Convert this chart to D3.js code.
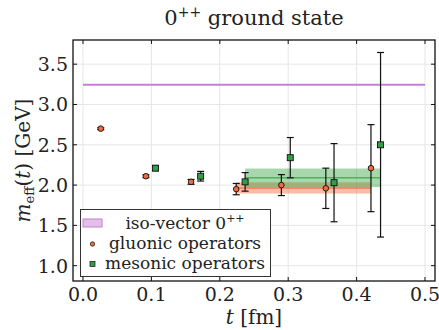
<!DOCTYPE html>
<html>
<head>
<meta charset="utf-8">
<script src="https://cdn.jsdelivr.net/npm/d3@7"></script>
<style>
  body { margin: 0; background: #fff; }
  svg text { font-family: "DejaVu Serif", "Liberation Serif", serif; fill: #222; }
</style>
</head>
<body>
<div id="chart"></div>
<script>
// gluonic operators
var gluonT = [0.026, 0.092, 0.158, 0.224, 0.290, 0.355, 0.421];
var gluonM = [2.70, 2.11, 2.04, 1.95, 2.00, 1.96, 2.21];
var gluonErr = [0.012, 0.018, 0.03, 0.07, 0.13, 0.25, 0.54];
// mesonic operators
var mesonT = [0.106, 0.172, 0.237, 0.303, 0.367, 0.435];
var mesonM = [2.21, 2.11, 2.04, 2.34, 2.03, 2.50];
var mesonErr = [0.03, 0.06, 0.115, 0.25, 0.485, 1.145];
// fitted plateaus [tStart, tEnd, value, error]
var gluonFit = [0.224, 0.421, 1.965, 0.07];
var mesonFit = [0.237, 0.435, 2.09, 0.115];
// iso-vector reference level
var isoVector = 3.245;
var isoRange = [0, 0.5];

var xTicks = [0, 0.1, 0.2, 0.3, 0.4, 0.5];
var yTicks = [1.0, 1.5, 2.0, 2.5, 3.0, 3.5];

var svgWidth = 439, svgHeight = 330;
var margin = {top: 40, right: 4, bottom: 49, left: 73};
var width = svgWidth - margin.left - margin.right;
var height = svgHeight - margin.top - margin.bottom;

var svg = d3.select('#chart').append('svg')
  .attr('width', svgWidth)
  .attr('height', svgHeight);

var g = svg.append('g')
  .attr('transform', 'translate(' + margin.left + ',' + margin.top + ')');

var x = d3.scaleLinear().domain([-0.0146, 0.5146]).range([0, width]);
var y = d3.scaleLinear().domain([0.81, 3.80]).range([height, 0]);

var orange = '#f06a3c', green = '#2f9e46';

// grid
g.append('g').selectAll('line').data(xTicks).enter().append('line')
  .attr('x1', d => x(d)).attr('x2', d => x(d))
  .attr('y1', 0).attr('y2', height)
  .attr('stroke', '#e6e6e6').attr('stroke-width', 1);
g.append('g').selectAll('line').data(yTicks).enter().append('line')
  .attr('y1', d => y(d)).attr('y2', d => y(d))
  .attr('x1', 0).attr('x2', width)
  .attr('stroke', '#e6e6e6').attr('stroke-width', 1);

// iso-vector line
g.append('line')
  .attr('x1', x(isoRange[0])).attr('x2', x(isoRange[1]))
  .attr('y1', y(isoVector)).attr('y2', y(isoVector))
  .attr('stroke', '#c77fd4').attr('stroke-width', 2);

// fit bands
function band(fit, fill, line) {
  g.append('rect')
    .attr('x', x(fit[0])).attr('width', x(fit[1]) - x(fit[0]))
    .attr('y', y(fit[2] + fit[3])).attr('height', y(fit[2] - fit[3]) - y(fit[2] + fit[3]))
    .attr('fill', fill).attr('fill-opacity', 0.45);
  g.append('line')
    .attr('x1', x(fit[0])).attr('x2', x(fit[1]))
    .attr('y1', y(fit[2])).attr('y2', y(fit[2]))
    .attr('stroke', line).attr('stroke-width', 1.5).attr('stroke-opacity', 0.8);
}
band(gluonFit, orange, orange);
band(mesonFit, '#3aa64a', '#3aa64a');

// error bars
function errorBars(ts, ms, es) {
  var eg = g.append('g').attr('stroke', '#111').attr('stroke-width', 1.2);
  ts.forEach(function(t, i) {
    var cx = x(t), top = y(ms[i] + es[i]), bot = y(ms[i] - es[i]);
    eg.append('line').attr('x1', cx).attr('x2', cx).attr('y1', top).attr('y2', bot);
    eg.append('line').attr('x1', cx - 3.5).attr('x2', cx + 3.5).attr('y1', top).attr('y2', top);
    eg.append('line').attr('x1', cx - 3.5).attr('x2', cx + 3.5).attr('y1', bot).attr('y2', bot);
  });
}
errorBars(gluonT, gluonM, gluonErr);
errorBars(mesonT, mesonM, mesonErr);

// markers
g.append('g').selectAll('circle').data(gluonT).enter().append('circle')
  .attr('cx', d => x(d)).attr('cy', (d, i) => y(gluonM[i]))
  .attr('r', 2.8).attr('fill', orange).attr('stroke', '#111').attr('stroke-width', 0.9);
g.append('g').selectAll('rect').data(mesonT).enter().append('rect')
  .attr('x', d => x(d) - 3).attr('y', (d, i) => y(mesonM[i]) - 3)
  .attr('width', 6).attr('height', 6)
  .attr('fill', green).attr('stroke', '#111').attr('stroke-width', 0.9);

// frame and inward ticks
g.append('rect').attr('width', width).attr('height', height)
  .attr('fill', 'none').attr('stroke', '#111').attr('stroke-width', 1.3);
var tk = g.append('g').attr('stroke', '#111').attr('stroke-width', 1);
xTicks.forEach(function(t) {
  tk.append('line').attr('x1', x(t)).attr('x2', x(t)).attr('y1', height).attr('y2', height - 4);
  tk.append('line').attr('x1', x(t)).attr('x2', x(t)).attr('y1', 0).attr('y2', 4);
});
yTicks.forEach(function(t) {
  tk.append('line').attr('y1', y(t)).attr('y2', y(t)).attr('x1', 0).attr('x2', 4);
  tk.append('line').attr('y1', y(t)).attr('y2', y(t)).attr('x1', width).attr('x2', width - 4);
});

// tick labels
g.append('g').selectAll('text').data(xTicks).enter().append('text')
  .attr('x', d => x(d)).attr('y', height + 20)
  .attr('text-anchor', 'middle').attr('font-size', 19)
  .text(d => d3.format('.1f')(d));
g.append('g').selectAll('text').data(yTicks).enter().append('text')
  .attr('x', -5).attr('y', d => y(d) + 7)
  .attr('text-anchor', 'end').attr('font-size', 19)
  .text(d => d3.format('.1f')(d));

// axis labels
var xl = svg.append('text').attr('x', margin.left + x(0.25)).attr('y', 324)
  .attr('text-anchor', 'middle').attr('font-size', 20);
xl.append('tspan').attr('font-style', 'italic').text('t');
xl.append('tspan').text(' [fm]');

var yl = svg.append('text')
  .attr('transform', 'translate(30,' + (margin.top + height / 2) + ') rotate(-90)')
  .attr('text-anchor', 'middle').attr('font-size', 20);
yl.append('tspan').attr('font-style', 'italic').text('m');
yl.append('tspan').attr('font-size', 13).attr('dy', 4).text('eff');
yl.append('tspan').attr('dy', -4).text('(');
yl.append('tspan').attr('font-style', 'italic').text('t');
yl.append('tspan').text(') [GeV]');

// title
var tt = svg.append('text').attr('x', margin.left + width / 2).attr('y', 25)
  .attr('text-anchor', 'middle').attr('font-size', 21);
tt.append('tspan').text('0');
tt.append('tspan').attr('font-size', 14).attr('dy', -8).text('++');
tt.append('tspan').attr('dy', 8).text(' ground state');

// legend
var lg = svg.append('g');
lg.append('rect').attr('x', 80.5).attr('y', 209.5).attr('width', 190).attr('height', 67)
  .attr('fill', '#fff').attr('fill-opacity', 0.9).attr('stroke', '#333').attr('stroke-width', 1);
lg.append('rect').attr('x', 83).attr('y', 219).attr('width', 19).attr('height', 8)
  .attr('fill', '#c77fd4').attr('fill-opacity', 0.5).attr('stroke', '#c77fd4');
lg.append('circle').attr('cx', 92.5).attr('cy', 244).attr('r', 2.2)
  .attr('fill', orange).attr('stroke', '#111').attr('stroke-width', 0.7);
lg.append('rect').attr('x', 90).attr('y', 261.5).attr('width', 5).attr('height', 5)
  .attr('fill', green).attr('stroke', '#111').attr('stroke-width', 0.7);
var l1 = lg.append('text').attr('x', 185).attr('y', 229).attr('text-anchor', 'middle').attr('font-size', 17);
l1.append('tspan').text('iso-vector 0');
l1.append('tspan').attr('font-size', 11).attr('dy', -7).text('++');
lg.append('text').attr('x', 185).attr('y', 249).attr('text-anchor', 'middle').attr('font-size', 17)
  .text('gluonic operators');
lg.append('text').attr('x', 185).attr('y', 269).attr('text-anchor', 'middle').attr('font-size', 17)
  .text('mesonic operators');
</script>
</body>
</html>
